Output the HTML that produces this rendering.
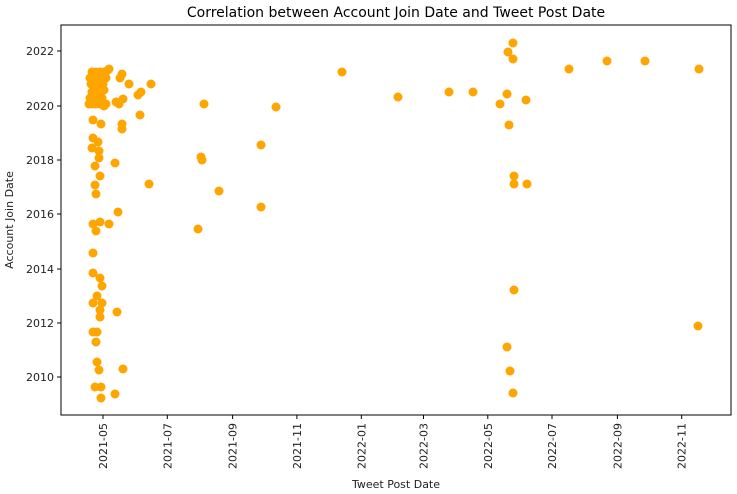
<!DOCTYPE html>
<html><head><style>
body{margin:0;background:#fff;}
svg{display:block;font-family:"DejaVu Sans","Liberation Sans",sans-serif;}
</style></head><body>
<svg width="737" height="494" viewBox="0 0 737 494" xmlns="http://www.w3.org/2000/svg">
<rect width="737" height="494" fill="#fff"/>
<text x="396" y="17" font-size="14" text-anchor="middle" fill="#000">Correlation between Account Join Date and Tweet Post Date</text>
<g fill="#FFA500" id="pts">
</g>
<rect x="61" y="25" width="670" height="390" fill="none" stroke="#000" stroke-width="1"/>
<g stroke="#000" stroke-width="1">
<line x1="57" x2="61" y1="51" y2="51"/><line x1="57" x2="61" y1="106" y2="106"/><line x1="57" x2="61" y1="160" y2="160"/><line x1="57" x2="61" y1="214" y2="214"/><line x1="57" x2="61" y1="269" y2="269"/><line x1="57" x2="61" y1="323" y2="323"/><line x1="57" x2="61" y1="377" y2="377"/>
</g>
<g font-size="11" fill="#222" text-anchor="end">
<text x="54" y="55">2022</text><text x="54" y="110">2020</text><text x="54" y="164">2018</text><text x="54" y="218">2016</text><text x="54" y="273">2014</text><text x="54" y="327">2012</text><text x="54" y="381">2010</text>
</g>
<text transform="translate(13,220) rotate(-90)" font-size="11" fill="#222" text-anchor="middle">Account Join Date</text>
<g id="xt" stroke="#000"></g>
<g id="xl" font-size="11" fill="#222"></g>
<text x="396" y="488" font-size="11" fill="#222" text-anchor="middle">Tweet Post Date</text>
</svg>
<script>
var P=[[92,72],[96,72],[100,72],[104,72],[90,78],[94,78],[98,80],[102,76],[106,78],[91,84],[95,86],[99,86],[103,84],[92,92],[96,92],[100,92],[104,90],[90,98],[94,98],[98,100],[102,98],[106,104],[92,104],[96,104],[100,104],[104,106],[89,104],[94,88],[108,70],[105,74],[109,69],[122,74],[120,78],[129,84],[151,84],[141,92],[138,95],[116,102],[123,99],[119,104],[140,115],[93,120],[101,124],[122,124],[122,129],[93,138],[98,142],[92,148],[99,151],[99,158],[95,166],[115,163],[100,176],[149,184],[95,185],[96,194],[118,212],[93,224],[100,222],[109,224],[96,231],[93,253],[93,273],[100,278],[102,286],[97,296],[93,303],[102,303],[100,310],[100,317],[117,312],[93,332],[97,332],[96,342],[97,362],[99,370],[123,369],[95,387],[101,387],[101,398],[115,394],
[204,104],[202,160],[201,157],[219,191],[198,229],[261,145],[261,207],[276,107],[342,72],[398,97],[449,92],[473,92],[513,43],[508,52],[513,59],[507,94],[500,104],[526,100],[509,125],[514,176],[514,184],[527,184],[514,290],[507,347],[510,371],[513,393],[569,69],[607,61],[645,61],[699,69],[698,326]];
var g=document.getElementById('pts'),s='';
P.forEach(function(p){s+='<circle cx="'+p[0]+'" cy="'+p[1]+'" r="4.5"/>';});
g.innerHTML=s;
var labs=['2021-05','2021-07','2021-09','2021-11','2022-01','2022-03','2022-05','2022-07','2022-09','2022-11'];
var xs=[103,167.3,232.6,296.9,361.3,423.5,487.8,552,617.4,681.7];
var t='',l='';
xs.forEach(function(x,i){t+='<line x1="'+x+'" x2="'+x+'" y1="415" y2="419"/>';
l+='<text transform="translate('+(x+4)+',423) rotate(-90)" text-anchor="end">'+labs[i]+'</text>';});
document.getElementById('xt').innerHTML=t;document.getElementById('xl').innerHTML=l;
</script>
</body></html>
